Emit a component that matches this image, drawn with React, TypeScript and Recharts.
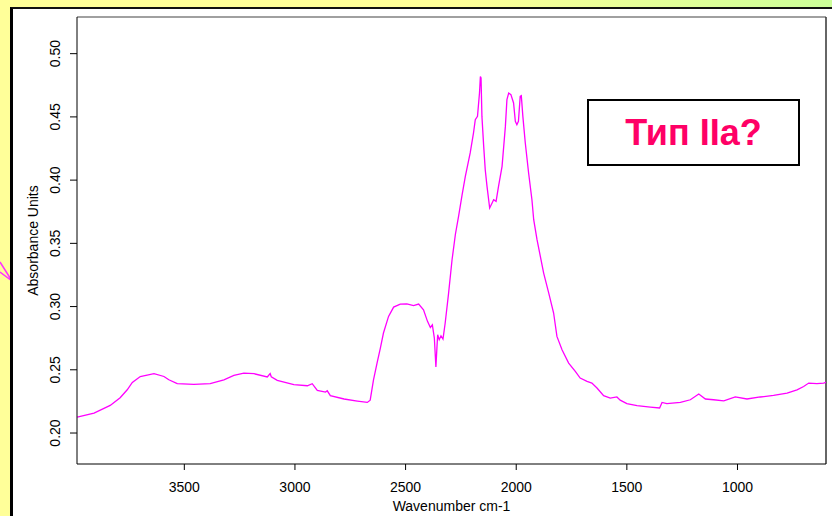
import React from 'react';
import { LineChart, Line, XAxis, YAxis, ReferenceLine } from 'recharts';

// wavenumber (cm-1) from left to right
const wavenumbers = [
  3984, 3908, 3835, 3790, 3758, 3735, 3699, 3637, 3592, 3570, 3532, 3457, 3383, 3321, 3276,
  3231, 3185, 3125, 3112, 3107, 3080, 3005, 2944, 2922, 2899, 2862, 2854, 2840, 2778, 2718,
  2673, 2660, 2645, 2629, 2614, 2600, 2577, 2554, 2524, 2494, 2464, 2441, 2419, 2401, 2388,
  2379, 2370, 2363, 2358, 2355, 2348, 2340, 2331, 2321, 2306, 2290, 2275, 2260, 2245, 2230,
  2208, 2193, 2185, 2175, 2166, 2162, 2159, 2155, 2147, 2140, 2132, 2120, 2109, 2102, 2091,
  2080, 2064, 2049, 2042, 2034, 2024, 2012, 2004, 1997, 1990, 1982, 1977, 1970, 1959, 1944,
  1929, 1921, 1906, 1891, 1876, 1853, 1831, 1816, 1793, 1763, 1733, 1711, 1680, 1658, 1635,
  1605, 1575, 1545, 1530, 1500, 1454, 1394, 1352, 1341, 1319, 1258, 1213, 1175, 1145, 1108,
  1062, 1010, 957, 897, 837, 776, 731, 701, 678, 641, 611, 600,
];

const absorbance = [
  0.2126, 0.2158, 0.2218, 0.2279, 0.2342, 0.24, 0.2447, 0.2469, 0.2447, 0.2421, 0.239, 0.2384, 0.239, 0.2421, 0.2455,
  0.2474, 0.2469, 0.2443, 0.247, 0.2445, 0.2416, 0.2382, 0.2374, 0.239, 0.2337, 0.2324, 0.2334, 0.2295, 0.2269, 0.2253,
  0.2242, 0.226, 0.2421, 0.2553, 0.2672, 0.2791, 0.2922, 0.2996, 0.302, 0.3022, 0.3007, 0.302, 0.2975, 0.2883, 0.2835,
  0.2856, 0.2751, 0.2522, 0.2685, 0.2777, 0.2738, 0.2769, 0.2743, 0.287, 0.31, 0.337, 0.357, 0.372, 0.388, 0.403,
  0.4215, 0.4373, 0.4478, 0.4504, 0.4689, 0.482, 0.4808, 0.4504, 0.4267, 0.4082, 0.395, 0.3779, 0.3819, 0.3845, 0.3832,
  0.395, 0.4109, 0.4425, 0.4636, 0.4689, 0.4676, 0.461, 0.4465, 0.4438, 0.4465, 0.4662, 0.4668, 0.4504, 0.4294, 0.4056,
  0.3845, 0.3687, 0.3529, 0.3397, 0.3265, 0.3107, 0.2949, 0.2764, 0.2659, 0.2553, 0.2487, 0.2435, 0.2408, 0.2395, 0.2356,
  0.2295, 0.2276, 0.2285, 0.226, 0.2232, 0.2216, 0.2205, 0.2198, 0.2242, 0.2232, 0.2242, 0.2263, 0.2308, 0.2269, 0.2263,
  0.2255, 0.2285, 0.2269, 0.2285, 0.2297, 0.2316, 0.2342, 0.2368, 0.2395, 0.239, 0.2395, 0.24,
];

const xTicks = [3500, 3000, 2500, 2000, 1500, 1000];
const yTicks = [0.2, 0.25, 0.3, 0.35, 0.4, 0.45, 0.5];

const data = wavenumbers.map((wn, i) => ({ wn, abs: absorbance[i] }));

const FONT = '"Liberation Sans", Arial, sans-serif';

const YTick = ({ y, payload }: any) => (
  <text
    x={60}
    y={y}
    transform={`rotate(-90 60 ${y})`}
    textAnchor="middle"
    fontSize={14}
    fontFamily={FONT}
    fill="#000"
  >
    {Number(payload.value).toFixed(2)}
  </text>
);

const YLabel = ({ viewBox }: any) => {
  const cy = viewBox.y + viewBox.height / 2;
  return (
    <text x={38} y={cy} transform={`rotate(-90 38 ${cy})`} textAnchor="middle" fontSize={14} fontFamily={FONT} fill="#000">
      Absorbance Units
    </text>
  );
};

const XLabel = ({ viewBox }: any) => (
  <text x={viewBox.x + viewBox.width / 2} y={511} textAnchor="middle" fontSize={14} fontFamily={FONT} fill="#000">
    Wavenumber cm-1
  </text>
);

export default function App() {
  return (
    <div
      style={{
        position: 'absolute',
        top: 0,
        left: 0,
        width: 832,
        height: 516,
        overflow: 'hidden',
        background: 'linear-gradient(to right, #ffff99 0%, #ffff99 55%, #ccff99 100%)',
      }}
    >
      <svg style={{ position: 'absolute', left: 0, top: 0 }} width={14} height={516}>
        <polyline points="0,262 12,281 0,272" fill="none" stroke="#ff33ff" strokeWidth={1.5} />
      </svg>
      <div
        style={{
          position: 'absolute',
          left: 10,
          top: 7,
          width: 830,
          height: 520,
          background: '#fff',
          borderLeft: '3px solid #000',
          borderTop: '2px solid #111',
        }}
      />
      <div style={{ position: 'absolute', left: 0, top: 0 }}>
        <LineChart width={832} height={516} data={data} margin={{ top: 17, right: 6, bottom: 0, left: 0 }}>
          <XAxis
            dataKey="wn"
            type="number"
            domain={[600, 3985]}
            reversed
            allowDataOverflow
            ticks={xTicks}
            tickSize={6}
            tickMargin={12}
            height={52}
            stroke="#000"
            tick={{ fontSize: 14, fill: '#000', fontFamily: FONT }}
            label={<XLabel />}
          />
          <YAxis
            type="number"
            domain={[0.1755, 0.529]}
            allowDataOverflow
            ticks={yTicks}
            tickSize={7}
            width={77}
            stroke="#000"
            tick={<YTick />}
            label={<YLabel />}
          />
          <ReferenceLine y={0.529} stroke="#808080" strokeWidth={1.5} />
          <ReferenceLine x={600} stroke="#333" strokeWidth={1.5} />
          <Line
            type="linear"
            dataKey="abs"
            stroke="#ff00ff"
            strokeWidth={1.3}
            dot={false}
            isAnimationActive={false}
          />
        </LineChart>
      </div>
      <div
        style={{
          position: 'absolute',
          left: 587,
          top: 99,
          width: 209,
          height: 63,
          border: '2px solid #000',
          background: '#fff',
          display: 'flex',
          alignItems: 'center',
          justifyContent: 'center',
          fontFamily: FONT,
          fontWeight: 'bold',
          fontSize: 36,
          color: '#ff0066',
        }}
      >
        Тип IIa?
      </div>
    </div>
  );
}
